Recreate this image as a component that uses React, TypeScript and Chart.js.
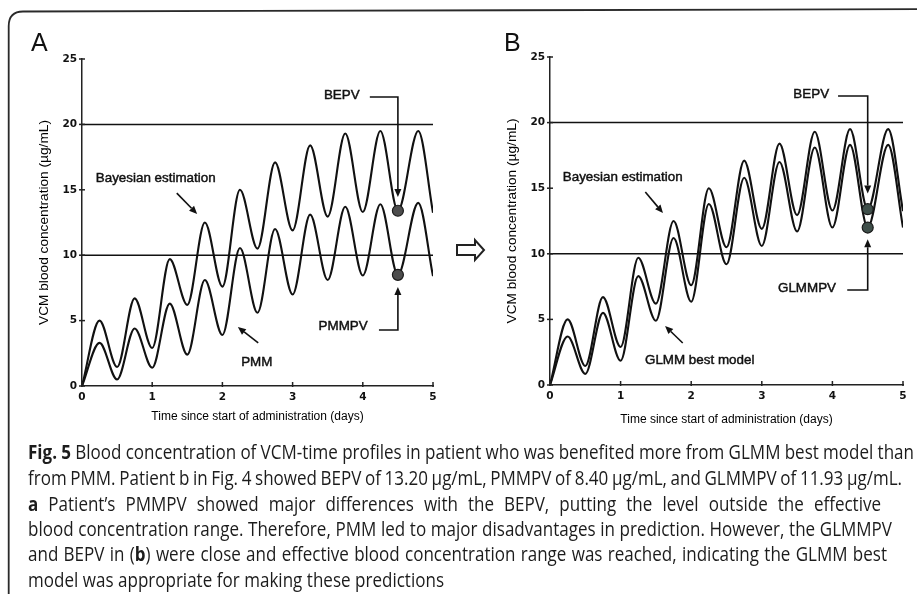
import React, { useEffect, useLayoutEffect, useRef } from "react";
import { Chart, registerables } from "chart.js";

Chart.register(...registerables);

// ---------- data ----------
const timeDays = [0, 0.25, 0.5, 0.75, 1, 1.25, 1.5, 1.75, 2, 2.25, 2.5, 2.75, 3, 3.25, 3.5, 3.75, 4, 4.25, 4.5, 4.79, 5];
const bayesianEstimation = [0, 5.0, 1.45, 6.7, 2.9, 9.7, 6.2, 12.5, 7.6, 15.0, 10.5, 17.1, 11.9, 18.4, 12.95, 19.3, 13.3, 19.5, 13.4, 19.5, 13.25];
const pmmProfile = [0, 3.3, 0.5, 4.4, 1.4, 6.3, 2.4, 8.1, 3.9, 10.55, 5.6, 12.0, 7.0, 13.1, 8.1, 13.7, 8.45, 13.9, 8.5, 14.0, 8.4];
const glmmProfile = [0, 3.7, 0.85, 5.5, 1.85, 8.3, 4.9, 11.2, 6.35, 13.8, 9.2, 15.8, 10.6, 17.0, 11.7, 18.1, 12.0, 18.3, 12.0, 18.3, 12.0];
const effectiveRange = [10, 20];
const predictionTime = 4.5;
const bepvValue = 13.4;
const pmmpvValue = 8.5;
const glmmpvValue = 12.0;
const xRange = [0, 5];
const yRange = [0, 25];
const xStep = 1;
const yStep = 5;

const xTitle = "Time since start of administration (days)";
const yTitle = "VCM blood concentration (µg/mL)";

// ---------- styles ----------
const INK = "#111111";
const AXIS_FONT = "'Liberation Sans', Arial, sans-serif";
const TICK_FONT = "'DejaVu Sans', sans-serif";
const CAPTION_FONT = "'Open Sans', 'Noto Sans', sans-serif";
const CAP_SIZE = 20;
const CAP_LEFT = 28;

type Pt = [number, number];
type Annot = { texts: { text: string; x: number; y: number }[]; arrows: Pt[][] };

const annotA: Annot = {
  texts: [
    { text: "Bayesian estimation", x: 1.05, y: 15.9 },
    { text: "PMM", x: 2.49, y: 1.83 },
    { text: "BEPV", x: 3.7, y: 22.25 },
    { text: "PMMPV", x: 3.72, y: 4.59 },
  ],
  arrows: [
    [[1.35, 14.75], [1.64, 13.15]],
    [[2.51, 3.29], [2.22, 4.51]],
    [[4.1, 22.1], [4.5, 22.1], [4.5, 14.45]],
    [[4.23, 4.28], [4.5, 4.28], [4.5, 7.57]],
  ],
};

const annotB: Annot = {
  texts: [
    { text: "Bayesian estimation", x: 1.03, y: 15.85 },
    { text: "GLMM best model", x: 2.12, y: 1.9 },
    { text: "BEPV", x: 3.7, y: 22.18 },
    { text: "GLMMPV", x: 3.64, y: 7.39 },
  ],
  arrows: [
    [[1.35, 14.71], [1.6, 13.11]],
    [[1.88, 3.2], [1.63, 4.5]],
    [[4.08, 22.03], [4.5, 22.03], [4.5, 14.6]],
    [[4.21, 7.24], [4.5, 7.24], [4.5, 11.1]],
  ],
};

const annotPlugin = {
  id: "annot",
  afterDatasetsDraw(chart: any, _args: any, opts: any) {
    const { ctx, scales } = chart;
    const x = scales.x;
    const y = scales.y;
    const px = (v: number) => x.getPixelForValue(v);
    const py = (v: number) => y.getPixelForValue(v);
    ctx.save();
    // inner tick marks
    ctx.strokeStyle = "#222";
    ctx.lineWidth = 1.5;
    x.ticks.forEach((t: any) => {
      const xx = px(t.value);
      ctx.beginPath();
      ctx.moveTo(xx, y.bottom - 4);
      ctx.lineTo(xx, y.bottom + 1);
      ctx.stroke();
    });
    y.ticks.forEach((t: any) => {
      const yy = py(t.value);
      ctx.beginPath();
      ctx.moveTo(x.left - 3, yy);
      ctx.lineTo(x.left + 3, yy);
      ctx.stroke();
    });
    // texts (slightly heavier, like the printed figure)
    ctx.fillStyle = INK;
    ctx.strokeStyle = INK;
    ctx.lineWidth = 0.45;
    ctx.font = `13.4px ${AXIS_FONT}`;
    ctx.textAlign = "center";
    ctx.textBaseline = "middle";
    (opts.texts || []).forEach((t: any) => {
      ctx.fillText(t.text, px(t.x), py(t.y));
      ctx.strokeText(t.text, px(t.x), py(t.y));
    });
    // arrows
    ctx.lineWidth = 1.6;
    (opts.arrows || []).forEach((pts: Pt[]) => {
      const P = pts.map(([a, b]) => [px(a), py(b)]);
      const [ex, ey] = P[P.length - 1];
      const [sx, sy] = P[P.length - 2];
      const ang = Math.atan2(ey - sy, ex - sx);
      const L = 8, W = 3.5;
      const bx = ex - L * Math.cos(ang), by = ey - L * Math.sin(ang);
      ctx.beginPath();
      ctx.moveTo(P[0][0], P[0][1]);
      for (let i = 1; i < P.length - 1; i++) ctx.lineTo(P[i][0], P[i][1]);
      ctx.lineTo(bx, by);
      ctx.stroke();
      ctx.beginPath();
      ctx.moveTo(ex, ey);
      ctx.lineTo(bx + W * Math.sin(ang), by - W * Math.cos(ang));
      ctx.lineTo(bx - W * Math.sin(ang), by + W * Math.cos(ang));
      ctx.closePath();
      ctx.fill();
    });
    ctx.restore();
  },
};

type PanelProps = {
  left: number;
  width: number;
  height: number;
  lower: number[];
  markers: number[];
  markerColor: string;
  annot: Annot;
  padding: { left: number; top: number; right: number; bottom: number };
  xHeight: number;
  xTitlePad: number;
};

function Panel(p: PanelProps) {
  const ref = useRef<HTMLCanvasElement>(null);
  useEffect(() => {
    if (!ref.current) return;
    const toPts = (arr: number[]) => arr.map((v, i) => ({ x: timeDays[i], y: v }));
    const lineStyle = {
      borderColor: INK,
      borderWidth: 2.1,
      pointRadius: 0,
      cubicInterpolationMode: "monotone" as const,
      fill: false,
    };
    const chart = new Chart(ref.current, {
      type: "line",
      data: {
        datasets: [
          {
            type: "scatter",
            data: p.markers.map((v) => ({ x: predictionTime, y: v })),
            pointRadius: 5.5,
            pointBackgroundColor: p.markerColor,
            pointBorderColor: "#1a1a1a",
            pointBorderWidth: 1.2,
            showLine: false,
          } as any,
          { data: toPts(bayesianEstimation), ...lineStyle },
          { data: toPts(p.lower), ...lineStyle },
          ...effectiveRange.map((v) => ({
            data: [
              { x: xRange[0], y: v },
              { x: xRange[1], y: v },
            ],
            borderColor: INK,
            borderWidth: 1.5,
            pointRadius: 0,
          })),
        ],
      },
      options: {
        animation: false,
        responsive: false,
        events: [],
        layout: { padding: p.padding },
        plugins: {
          legend: { display: false },
          tooltip: { enabled: false },
          annot: p.annot,
        } as any,
        scales: {
          x: {
            type: "linear",
            min: xRange[0],
            max: xRange[1],
            ticks: { stepSize: xStep, color: INK, font: { family: TICK_FONT, size: 10.5, weight: "bold" }, padding: 5, maxRotation: 0 },
            grid: { display: false, drawTicks: false },
            border: { display: true, color: "#222", width: 1.5 },
            title: {
              display: true,
              text: xTitle,
              color: "#000",
              font: { family: AXIS_FONT, size: 12 },
              padding: { top: 0, bottom: p.xTitlePad },
            },
            afterFit: (s: any) => {
              s.height = p.xHeight;
            },
          },
          y: {
            type: "linear",
            min: yRange[0],
            max: yRange[1],
            ticks: { stepSize: yStep, color: INK, font: { family: TICK_FONT, size: 10.5, weight: "bold" }, padding: 5 },
            grid: { display: false, drawTicks: false },
            border: { display: true, color: "#222", width: 1.5 },
            title: {
              display: true,
              text: yTitle,
              color: "#000",
              font: { family: AXIS_FONT, size: 13.7 },
              padding: { top: 35.8, bottom: 0 },
            },
            afterFit: (s: any) => {
              s.width = 82;
            },
          },
        },
      } as any,
      plugins: [annotPlugin],
    });
    return () => chart.destroy();
  }, []);
  return (
    <canvas
      ref={ref}
      width={p.width}
      height={p.height}
      style={{ position: "absolute", left: p.left, top: 0, width: p.width, height: p.height }}
    />
  );
}

const captionLines: [string, boolean][][] = [
  [["Fig. 5", true], [" Blood concentration of VCM-time profiles in patient who was benefited more from GLMM best model than", false]],
  [["from PMM. Patient b in Fig. 4 showed BEPV of 13.20 µg/mL, PMMPV of 8.40 µg/mL, and GLMMPV of 11.93 µg/mL.", false]],
  [["a", true], [" Patient’s PMMPV showed major differences with the BEPV, putting the level outside the effective", false]],
  [["blood concentration range. Therefore, PMM led to major disadvantages in prediction. However, the GLMMPV", false]],
  [["and BEPV in (", false], ["b", true], [") were close and effective blood concentration range was reached, indicating the GLMM best", false]],
  [["model was appropriate for making these predictions", false]],
];
const captionBaselines = [460, 485.7, 511.7, 536.7, 561.7, 587.7];
const captionRight = [914, 902, 881, 892, 887, 444];

function Caption() {
  const refs = useRef<(HTMLSpanElement | null)[]>([]);
  useLayoutEffect(() => {
    const els = refs.current.filter(Boolean) as HTMLSpanElement[];
    const nat = els.map((el) => {
      el.style.wordSpacing = "0px";
      el.style.transform = "none";
      return el.getBoundingClientRect().width;
    });
    const full = [0, 1, 3, 4];
    const s = full.map((i) => (captionRight[i] - CAP_LEFT) / nat[i]).reduce((a, b) => a + b, 0) / full.length;
    els.forEach((el, i) => {
      const spaces = (el.textContent || "").split(" ").length - 1;
      const resid = (captionRight[i] - CAP_LEFT) / s - nat[i];
      el.style.wordSpacing = `${spaces ? resid / spaces : 0}px`;
      el.style.transform = `scaleX(${s})`;
    });
  }, []);
  return (
    <>
      {captionLines.map((line, i) => (
        <span
          key={i}
          ref={(el) => {
            refs.current[i] = el;
          }}
          style={{
            position: "absolute",
            left: CAP_LEFT,
            top: captionBaselines[i] - 0.888 * CAP_SIZE,
            fontFamily: CAPTION_FONT,
            fontSize: CAP_SIZE,
            lineHeight: `${CAP_SIZE}px`,
            whiteSpace: "pre",
            display: "inline-block",
            transformOrigin: "0 0",
            color: "#1c1c1c",
          }}
        >
          {line.map(([t, b], j) => (
            <span key={j} style={{ fontWeight: b ? 700 : 400 }}>
              {t}
            </span>
          ))}
        </span>
      ))}
    </>
  );
}

export default function App() {
  return (
    <div style={{ position: "absolute", left: 0, top: 0, width: 917, height: 594, overflow: "hidden", background: "#fff" }}>
      <svg width={917} height={594} style={{ position: "absolute", left: 0, top: 0 }}>
        <path d="M 8.7 594 L 8.7 26 Q 8.7 11.5 23 11.5 L 917 9.2" fill="none" stroke="#2a2a2a" strokeWidth={1.8} />
        <path d="M 457 245 H 475 V 240 L 484 250 L 475 260 V 255 H 457 Z" fill="#fff" stroke="#222" strokeWidth={2} strokeLinejoin="miter" />
      </svg>
      <Panel
        left={0}
        width={458}
        height={440}
        lower={pmmProfile}
        markers={[bepvValue, pmmpvValue]}
        markerColor="#4d4d4d"
        annot={annotA}
        padding={{ left: 0, top: 59, right: 25, bottom: 7 }}
        xHeight={47}
        xTitlePad={8.8}
      />
      <Panel
        left={468}
        width={449}
        height={440}
        lower={glmmProfile}
        markers={[bepvValue, glmmpvValue]}
        markerColor="#3f4f4a"
        annot={annotB}
        padding={{ left: 0, top: 57, right: 14, bottom: 7 }}
        xHeight={48}
        xTitlePad={5.8}
      />
      <div style={{ position: "absolute", left: 31, top: 27, fontFamily: AXIS_FONT, fontSize: 25, lineHeight: "30px", color: INK }}>A</div>
      <div style={{ position: "absolute", left: 504, top: 27, fontFamily: AXIS_FONT, fontSize: 25, lineHeight: "30px", color: INK }}>B</div>
      <Caption />
    </div>
  );
}
